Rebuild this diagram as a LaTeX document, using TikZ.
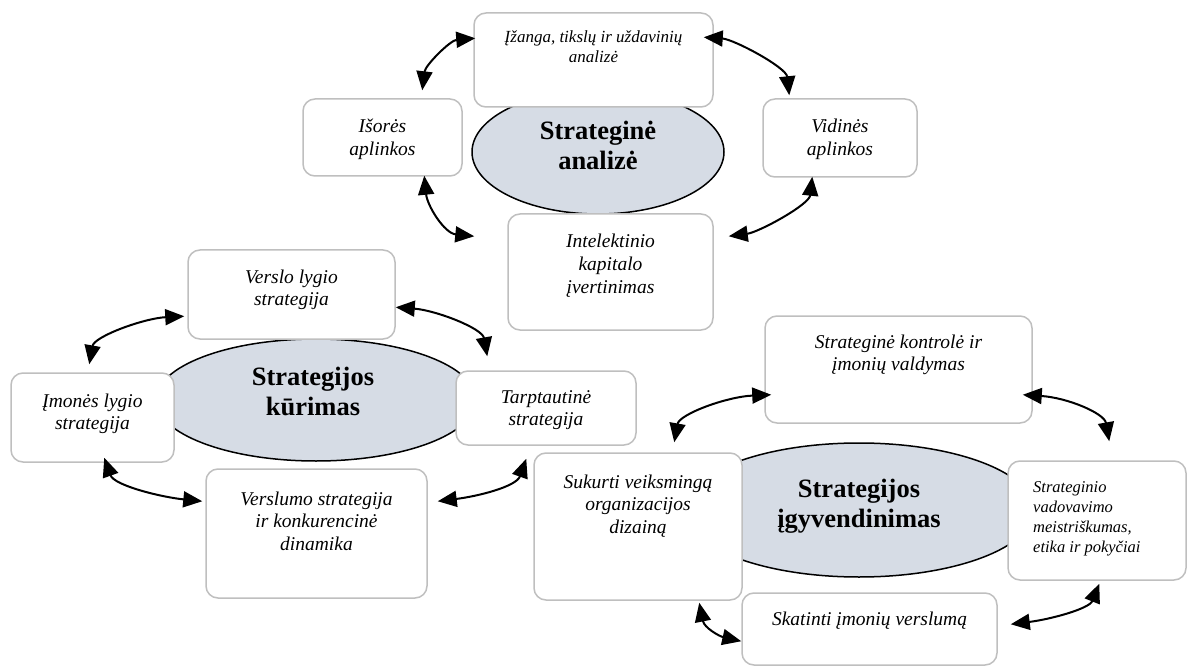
\documentclass[tikz,border=0pt]{standalone}
\usepackage{fontspec}
\setmainfont{Liberation Serif}
\usetikzlibrary{arrows.meta,calc,shapes.geometric}
\definecolor{boxline}{RGB}{191,191,191}
\definecolor{hubfill}{RGB}{214,220,229}
\tikzset{
  box/.style={rectangle, draw=boxline, line width=1.5pt, fill=white,
    rounded corners=12pt, inner sep=0pt},
  hub/.style={ellipse, draw=black, line width=1.5pt, fill=hubfill, inner sep=0pt},
  lbl/.style={font=\fontsize{19.5}{22.5}\selectfont\itshape, align=center,
    anchor=base, inner sep=0pt},
  lblsmall/.style={font=\fontsize{17}{20}\selectfont\itshape, align=center,
    anchor=base, inner sep=0pt},
  hubtxt/.style={font=\fontsize{26.5}{30}\selectfont\bfseries, align=center,
    anchor=base, inner sep=0pt},
  tip/.tip={Triangle[length=19pt,width=16pt]},
  link/.style={tip-tip, line width=2pt},
}
\begin{document}
\begin{tikzpicture}[x=1pt,y=-1pt]
\useasboundingbox (0,0) rectangle (1188,668);

% ---- central ellipses ----
\node[hub, minimum width=252pt, minimum height=124pt] (hA) at (598,152) {};
\node[hub, minimum width=320pt, minimum height=122pt] (hK) at (316,400) {};
\node[hub, minimum width=350pt, minimum height=134pt] (hI) at (859,510) {};

% ---- strategic analysis boxes ----
\node[box, minimum width=239pt, minimum height=94pt]  (tz) at (593.5,60) {};
\node[box, minimum width=159pt, minimum height=77pt]  (io) at (382.5,137.5) {};
\node[box, minimum width=154pt, minimum height=78pt]  (vi) at (840,138) {};
\node[box, minimum width=205pt, minimum height=116pt] (ik) at (610.5,272) {};

% ---- strategy formulation boxes ----
\node[box, minimum width=207pt, minimum height=89pt]  (vl) at (291.5,294.5) {};
\node[box, minimum width=163pt, minimum height=89pt]  (il) at (92.5,417.5) {};
\node[box, minimum width=180pt, minimum height=74pt]  (ts) at (546,408) {};
\node[box, minimum width=221pt, minimum height=129pt] (vu) at (316.5,533.5) {};

% ---- strategy implementation boxes ----
\node[box, minimum width=267pt, minimum height=107pt] (kv) at (898.5,369.5) {};
\node[box, minimum width=208pt, minimum height=147pt] (su) at (638,526.5) {};
\node[box, minimum width=178pt, minimum height=119pt] (sv) at (1097,520.5) {};
\node[box, minimum width=255pt, minimum height=72pt]  (sb) at (869.5,629) {};

% ---- texts (anchored on the baseline of their last line) ----
\node[hubtxt] (hA-t) at (598,170) {Strateginė\\analizė};
\node[hubtxt] (hK-t) at (313,415) {Strategijos\\kūrimas};
\node[hubtxt] (hI-t) at (859,527) {Strategijos\\įgyvendinimas};

\node[lblsmall] (tz-t) at (593.5,63) {Įžanga, tikslų ir uždavinių\\analizė};
\node[lbl] (io-t) at (382.5,155.5) {Išorės\\aplinkos};
\node[lbl] (vi-t) at (840,155.5) {Vidinės\\aplinkos};
\node[lbl] (ik-t) at (610.5,293) {Intelektinio\\kapitalo\\įvertinimas};

\node[lbl] (vl-t) at (291.5,305.5) {Verslo lygio\\strategija};
\node[lbl] (il-t) at (92.5,429.5) {Įmonės lygio\\strategija};
\node[lbl] (ts-t) at (546,425.5) {Tarptautinė\\strategija};
\node[lbl] (vu-t) at (316.5,550) {Verslumo strategija\\ir konkurencinė\\dinamika};

\node[lbl] (kv-t) at (898.5,370.5) {Strateginė kontrolė ir\\įmonių valdymas};
\node[lbl] (su-t) at (638,533) {Sukurti veiksmingą\\organizacijos\\dizainą};
\node[lblsmall, font=\fontsize{16.5}{20}\selectfont\itshape, align=left,
  anchor=base west] (sv-t) at (1033,552)
  {Strateginio\\vadovavimo\\meistriškumas,\\etika ir pokyčiai};
\node[lbl] (sb-t) at (869.5,625) {Skatinti įmonių verslumą};

% ---- two-way connectors: strategic analysis ----
\draw[link] ($(tz.north west)+(2,26)$) .. controls +(-25,2) and +(3,-25) .. ($(io.north west)+(120,-8)$);
\draw[link] ($(io.south west)+(122,-1)$) .. controls +(3,30) and +(-30,-3) .. ($(ik.north west)+(-33,23)$);
\draw[link] ($(tz.north east)+(-10,25)$) .. controls +(30,2) and +(-3,-28) .. ($(vi.north west)+(27,-3)$);
\draw[link] ($(vi.south west)+(50,-1)$) .. controls +(-3,28) and +(30,-4) .. ($(ik.north east)+(15,23)$);

% ---- two-way connectors: strategy formulation ----
\draw[link] ($(vl.north west)+(-3,67)$) .. controls +(-40,2) and +(5,-28) .. ($(il.north west)+(79,-8)$);
\draw[link] ($(vl.north east)+(0,58)$) .. controls +(40,3) and +(-5,-28) .. ($(ts.north west)+(32,-14)$);
\draw[link] ($(il.south west)+(94,-5)$) .. controls +(10,28) and +(-40,-4) .. ($(vu.north west)+(-3,33)$);
\draw[link] ($(ts.south west)+(71,13)$) .. controls +(-10,28) and +(40,-5) .. ($(vu.north east)+(10,33)$);

% ---- two-way connectors: strategy implementation ----
\draw[link] ($(kv.south west)+(7,-29)$) .. controls +(-45,2) and +(5,-28) .. ($(su.north west)+(141,-10)$);
\draw[link] ($(kv.south east)+(-10,-29)$) .. controls +(45,3) and +(-5,-28) .. ($(sv.north west)+(102,-19)$);
\draw[link] ($(su.south west)+(166,2)$) .. controls +(5,25) and +(-22,-5) .. ($(sb.north west)+(0,49)$);
\draw[link] ($(sv.south west)+(92,3)$) .. controls +(-10,25) and +(40,-5) .. ($(sb.north east)+(13,32)$);
\end{tikzpicture}
\end{document}
